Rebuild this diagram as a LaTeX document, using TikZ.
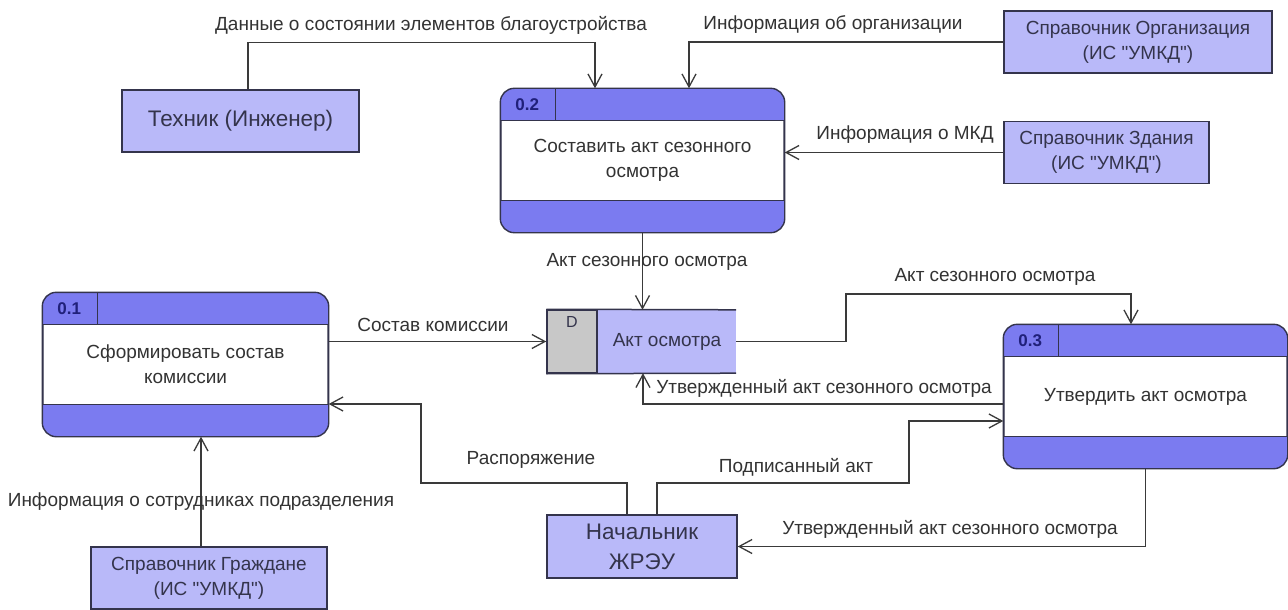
\documentclass[tikz,border=0pt]{standalone}
\usepackage{fontspec}
\newfontfamily\dfdfont{Liberation Sans}
\usetikzlibrary{arrows.meta,
                calc,
                positioning}

\definecolor{procblue}{HTML}{7B7BF0}
\definecolor{entfill}{HTML}{B9B9F9}
\definecolor{storegray}{HTML}{C8C8C8}
\definecolor{linegray}{HTML}{3A3A3A}
\definecolor{txtgray}{HTML}{333333}
\definecolor{entborder}{HTML}{34344C}
\definecolor{idblue}{HTML}{20207A}

\tikzset{
  every node/.style={font=\dfdfont\fontsize{19}{25}\selectfont},
  entity/.style={draw=entborder, line width=1.5pt, fill=entfill, text=entborder,
                 align=center, inner sep=0pt, minimum height=62pt},
  bigtxt/.style={font=\dfdfont\fontsize{22.5}{30}\selectfont},
  proc/.style={draw=entborder, line width=1.4pt, fill=white, rounded corners=14pt,
               text=txtgray, align=center, inner sep=0pt, minimum height=143pt},
  flow/.style={draw=linegray, line width=1.3pt, -{Straight Barb[length=13pt,width=14pt]}},
  lbl/.style={text=txtgray, inner sep=0pt},
  pid/.style={text=idblue, font=\dfdfont\fontsize{17}{20}\selectfont\bfseries, inner sep=0pt}
}

\begin{document}
\begin{tikzpicture}[x=1pt, y=-1pt]
\useasboundingbox[fill=white] (0,0) rectangle (1288,610);

% external entities
\node[entity, bigtxt, minimum width=237pt] (tech) at (240.5,121) {Техник (Инженер)};
\node[entity, minimum width=268pt] (org) at (1138,42) {Справочник Организация\\(ИС "УМКД")};
\node[entity, minimum width=205pt] (bld) at (1106.5,152.5) {Справочник Здания\\(ИС "УМКД")};
\node[entity, minimum width=236pt] (cit) at (209,578) {Справочник Граждане\\(ИС "УМКД")};
\node[entity, bigtxt, minimum width=190pt, minimum height=63pt] (boss) at (642,546.5) {Начальник\\ЖРЭУ};

% processes
\node[proc, minimum width=285pt] (p1) at (185.5,364.5) {Сформировать состав\\комиссии};
\node[proc, minimum width=283pt] (p2) at (642.5,160.5) {Составить акт сезонного\\осмотра};
\node[proc, minimum width=283pt] (p3) at (1145.5,396.5) {Утвердить акт осмотра};

\foreach \p/\num in {p1/0.1, p2/0.2, p3/0.3}{
  \begin{scope}
    \clip[rounded corners=14pt] (\p.south west) rectangle (\p.north east);
    \fill[procblue] (\p.north west) rectangle ([yshift=-32pt]\p.north east);
    \fill[procblue] (\p.south west) rectangle ([yshift=32pt]\p.south east);
  \end{scope}
  \draw[entborder, line width=1.4pt]
    ([yshift=-32pt]\p.north west) -- ([yshift=-32pt]\p.north east)
    ([yshift=32pt]\p.south west) -- ([yshift=32pt]\p.south east)
    ([xshift=55pt]\p.north west) -- ([xshift=55pt,yshift=-32pt]\p.north west);
  \draw[entborder, line width=1.4pt, rounded corners=14pt] (\p.south west) rectangle (\p.north east);
  \node[pid] at ([xshift=27pt,yshift=-16pt]\p.north west) {\num};
}

% data store
\node[draw=entborder, line width=1.5pt, fill=storegray, minimum width=50pt,
      minimum height=63pt, inner sep=0pt] (sid) at (572,341.5) {};
\node[fill=entfill, text=entborder, minimum width=138pt, minimum height=63pt,
      inner sep=0pt, anchor=west] (store) at (sid.east) {Акт осмотра};
\draw[entborder, line width=1.5pt] (sid.north west) -- (store.north east)
     (sid.south west) -- (store.south east);
\node[text=entborder, font=\dfdfont\fontsize{16}{18}\selectfont, inner sep=0pt] (sidtxt)
     at ([yshift=-13pt]sid.north) {D};

% flows
\draw[flow] ([xshift=7.5pt]tech.north) -- ++(0,-47) -| ([xshift=-47.5pt]p2.north);
\draw[flow] (org.west) -| ([xshift=46.5pt]p2.north);
\draw[flow] (bld.west) -- (bld.west -| p2.east);
\draw[flow] (p2.south) -- (p2.south |- store.north);
\draw[flow] (sid.west -| p1.east) -- (sid.west);
\draw[flow] (store.east) -| (846,294) -| ([xshift=-14.5pt]p3.north);
\draw[flow] ([yshift=-7.5pt]p3.west) -| ([xshift=-24pt]store.south);
\draw[flow] ([xshift=15pt]boss.north) |- (909,483) |- ([yshift=-24.5pt]p3.west);
\draw[flow] ([xshift=-15pt]boss.north) |- (421,483) |- ([yshift=-39.5pt]p1.east);
\draw[flow] ([xshift=-8pt]cit.north) -- ([xshift=-8pt]cit.north |- p1.south);
\draw[flow] (p3.south) |- (boss.east);

% flow labels
\node[lbl] (l1) at (431,25) {Данные о состоянии элементов благоустройства};
\node[lbl] (l2) at (833,25) {Информация об организации};
\node[lbl] (l3) at (905,135) {Информация о МКД};
\node[lbl] (l4) at (647,262) {Акт сезонного осмотра};
\node[lbl] (l5) at (433,325) {Состав комиссии};
\node[lbl] (l6) at (995,277) {Акт сезонного осмотра};
\node[lbl] (l7) at (824,388) {Утвержденный акт сезонного осмотра};
\node[lbl] (l8) at (796,467) {Подписанный акт};
\node[lbl] (l9) at (531,460) {Распоряжение};
\node[lbl] (l10) at (201,502) {Информация о сотрудниках подразделения};
\node[lbl] (l11) at (950,529) {Утвержденный акт сезонного осмотра};
\end{tikzpicture}
\end{document}
